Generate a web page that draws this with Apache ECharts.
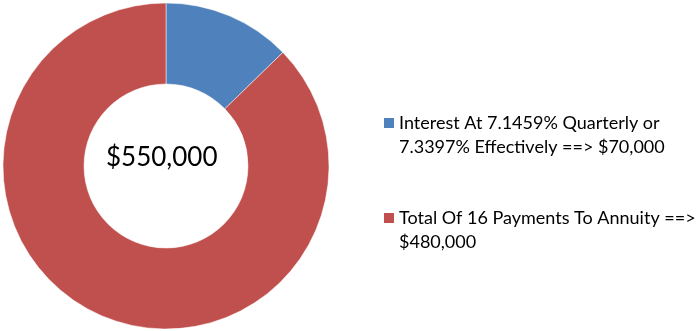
<!DOCTYPE html>
<html>
<head>
<meta charset="utf-8">
<script src="https://cdn.jsdelivr.net/npm/echarts@6/dist/echarts.min.js"></script>
<style>
html,body{margin:0;padding:0;background:#fff;}
#chart{width:700px;height:331px;}
</style>
</head>
<body>
<div id="chart"></div>
<script>
const categories = [
  'Interest At 7.1459% Quarterly or 7.3397% Effectively ==> $70,000',
  'Total Of 16 Payments To Annuity ==> $480,000'
];
const legendLines = [
  'Interest At 7.1459% Quarterly or\n7.3397% Effectively ==> $70,000',
  'Total Of 16 Payments To Annuity ==>\n$480,000'
];
const values = [70000, 480000];
const colors = ['#4F81BD', '#C0504D'];

const total = values.reduce((a, b) => a + b, 0);
const fmt = v => '$' + v.toLocaleString('en-US');
const FONT = 'Lato';

const chart = echarts.init(document.getElementById('chart'), null, {renderer: 'canvas'});
chart.setOption({
  animation: false,
  color: colors,
  legend: {
    orient: 'vertical',
    left: 379,
    top: 106,
    itemWidth: 10,
    itemHeight: 34,
    itemGap: 47,
    // square at top of a taller box so it lines up with the first text line
    icon: 'path://M0,0L10,0L10,10L0,10Z M0,34L0.01,34',
    data: categories,
    formatter: name => legendLines[categories.indexOf(name)],
    itemStyle: {borderWidth: 0},
    textStyle: {
      fontFamily: FONT,
      fontSize: 18,
      color: '#000',
      lineHeight: 24
    }
  },
  graphic: [{
    type: 'text',
    left: 106,
    top: 145,
    style: {
      text: fmt(total),
      font: '26px ' + FONT,
      fill: '#000'
    }
  }],
  series: [{
    type: 'pie',
    center: [166, 166],
    radius: [82, 163],
    startAngle: 90,
    clockwise: true,
    label: {show: false},
    labelLine: {show: false},
    itemStyle: {borderColor: '#fff', borderWidth: 0.5},
    emphasis: {disabled: true},
    data: categories.map((c, i) => ({name: c, value: values[i]}))
  }]
});
</script>
</body>
</html>
